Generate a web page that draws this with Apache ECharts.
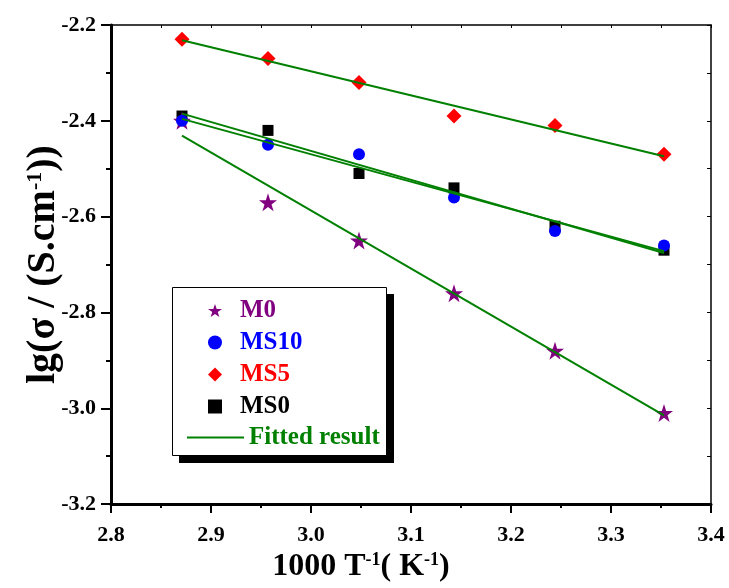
<!DOCTYPE html>
<html>
<head>
<meta charset="utf-8">
<script src="https://cdn.jsdelivr.net/npm/echarts@6/dist/echarts.min.js"></script>
<style>html,body{margin:0;padding:0;background:#fff;}#c{width:729px;height:588px;}</style>
</head>
<body>
<div id="c"></div>
<script>
// Data
var xVals = [2.871, 2.957, 3.048, 3.143, 3.244, 3.353];
var M0   = [-2.40, -2.57, -2.65, -2.76, -2.88, -3.01];
var MS10 = [-2.40, -2.45, -2.47, -2.56, -2.63, -2.66];
var MS5  = [-2.23, -2.27, -2.32, -2.39, -2.41, -2.47];
var MS0  = [-2.39, -2.42, -2.51, -2.54, -2.62, -2.67];
// Fitted line endpoints
var fitX     = [2.871, 3.353];
var fitM0    = [-2.431, -3.015];
var fitMS10  = [-2.396, -2.672];
var fitMS5   = [-2.232, -2.474];
var fitMS0   = [-2.385, -2.676];

function pairs(xs, ys) { return xs.map(function (x, i) { return [x, ys[i]]; }); }

var FONT = 'Liberation Serif';
var STAR = 'path://M50,0 L61.8,35.1 L98.9,35.1 L69.1,56.9 L80.3,91.9 L50,70 L19.7,91.9 L30.9,56.9 L1.1,35.1 L38.2,35.1 Z';
var GREEN = '#008000';

var chart = echarts.init(document.getElementById('c'), null, {renderer: 'canvas'});

function fitSeries(ys) {
  return {
    name: 'Fitted result', type: 'line', xAxisIndex: 0, yAxisIndex: 0,
    data: pairs(fitX, ys), symbol: 'none', showSymbol: false, silent: true, z: 5,
    lineStyle: {color: GREEN, width: 2}, itemStyle: {color: GREEN}
  };
}

var option = {
  animation: false,
  backgroundColor: '#fff',
  grid: {left: 111, top: 25, width: 600, height: 486},
  xAxis: [{
    type: 'value', position: 'bottom', min: 2.8, max: 3.4, interval: 0.1,
    name: '{a|1000 T}{s|-1}{a|( K}{s|-1}{a|)}', nameLocation: 'middle', nameGap: 44,
    nameTextStyle: {padding: [0, 100, 0, 0], rich: {
      a: {fontFamily: FONT, fontWeight: 'bold', fontSize: 32, color: '#000'},
      s: {fontFamily: FONT, fontWeight: 'bold', fontSize: 18, color: '#000', verticalAlign: 'top'}
    }},
    axisLine: {show: true, onZero: false, lineStyle: {color: '#000', width: 3}},
    axisTick: {show: true, inside: false, length: 9, lineStyle: {color: '#000', width: 2}},
    minorTick: {show: true, splitNumber: 2, length: 4, lineStyle: {color: '#000', width: 2}},
    splitLine: {show: false},
    axisLabel: {fontFamily: FONT, fontWeight: 'bold', fontSize: 22, color: '#000', margin: 20,
      formatter: function (v) { return v.toFixed(1); }}
  }, {
    type: 'value', position: 'top', min: 2.8, max: 3.4, interval: 0.05,
    axisLine: {show: true, onZero: false, lineStyle: {color: '#000', width: 1.5}},
    axisTick: {show: true, inside: true, length: 3, lineStyle: {color: '#000', width: 1}},
    axisLabel: {show: false}, splitLine: {show: false}
  }],
  yAxis: [{
    type: 'value', position: 'left', min: -3.2, max: -2.2, interval: 0.2,
    name: '{a|lg(σ / (S.cm}{s|-1}{a|))}', nameLocation: 'middle', nameGap: 47,
    nameMoveOverlap: false,
    nameTextStyle: {rich: {
      a: {fontFamily: FONT, fontWeight: 'bold', fontSize: 40, color: '#000'},
      s: {fontFamily: FONT, fontWeight: 'bold', fontSize: 22, color: '#000', verticalAlign: 'top'}
    }},
    axisLine: {show: true, onZero: false, lineStyle: {color: '#000', width: 3}},
    axisTick: {show: true, inside: false, length: 10, lineStyle: {color: '#000', width: 2}},
    minorTick: {show: true, splitNumber: 2, length: 5, lineStyle: {color: '#000', width: 2}},
    splitLine: {show: false},
    axisLabel: {fontFamily: FONT, fontWeight: 'bold', fontSize: 22, color: '#000', margin: 15,
      formatter: function (v) { return v.toFixed(1); }}
  }, {
    type: 'value', position: 'right', min: -3.2, max: -2.2, interval: 0.1,
    axisLine: {show: true, onZero: false, lineStyle: {color: '#000', width: 1.5}},
    axisTick: {show: true, inside: true, length: 4, lineStyle: {color: '#000', width: 1}},
    axisLabel: {show: false}, splitLine: {show: false}
  }],
  legend: [{
    orient: 'vertical', left: 203, top: 293, itemWidth: 14, itemHeight: 14, itemGap: 7,
    z: 10,
    textStyle: {fontFamily: FONT, fontWeight: 'bold', fontSize: 25, padding: [0, 0, 0, 13]},
    data: [
      {name: 'M0', textStyle: {color: '#800080'}},
      {name: 'MS10', textStyle: {color: '#0000ff'}},
      {name: 'MS5', textStyle: {color: '#ff0000'}},
      {name: 'MS0', textStyle: {color: '#000000'}}
    ]
  }, {
    orient: 'vertical', left: 182, top: 420, itemWidth: 57, itemHeight: 2,
    z: 10,
    textStyle: {fontFamily: FONT, fontWeight: 'bold', fontSize: 25, color: GREEN},
    data: [{name: 'Fitted result', icon: 'rect', itemStyle: {color: GREEN}, textStyle: {color: GREEN}}]
  }],
  graphic: [
    {type: 'rect', z: 3, left: 179, top: 294, shape: {width: 215, height: 169}, style: {fill: '#000'}},
    {type: 'rect', z: 4, left: 172, top: 287, shape: {width: 214, height: 168}, style: {fill: '#fff', stroke: '#000', lineWidth: 1}}
  ],
  series: [
    {name: 'MS0', type: 'scatter', data: pairs(xVals, MS0), symbol: 'rect', symbolSize: 11,
      itemStyle: {color: '#000', opacity: 1}, z: 2},
    {name: 'M0', type: 'scatter', data: pairs(xVals, M0), symbol: STAR, symbolSize: 18,
      itemStyle: {color: '#800080', opacity: 1}, z: 2},
    {name: 'MS10', type: 'scatter', data: pairs(xVals, MS10), symbol: 'circle', symbolSize: 12,
      itemStyle: {color: '#0000ff', opacity: 1}, z: 2},
    {name: 'MS5', type: 'scatter', data: pairs(xVals, MS5), symbol: 'diamond', symbolSize: 15,
      itemStyle: {color: '#ff0000', opacity: 1}, z: 2},
    fitSeries(fitM0), fitSeries(fitMS10), fitSeries(fitMS5), fitSeries(fitMS0)
  ]
};
chart.setOption(option);
</script>
</body>
</html>
